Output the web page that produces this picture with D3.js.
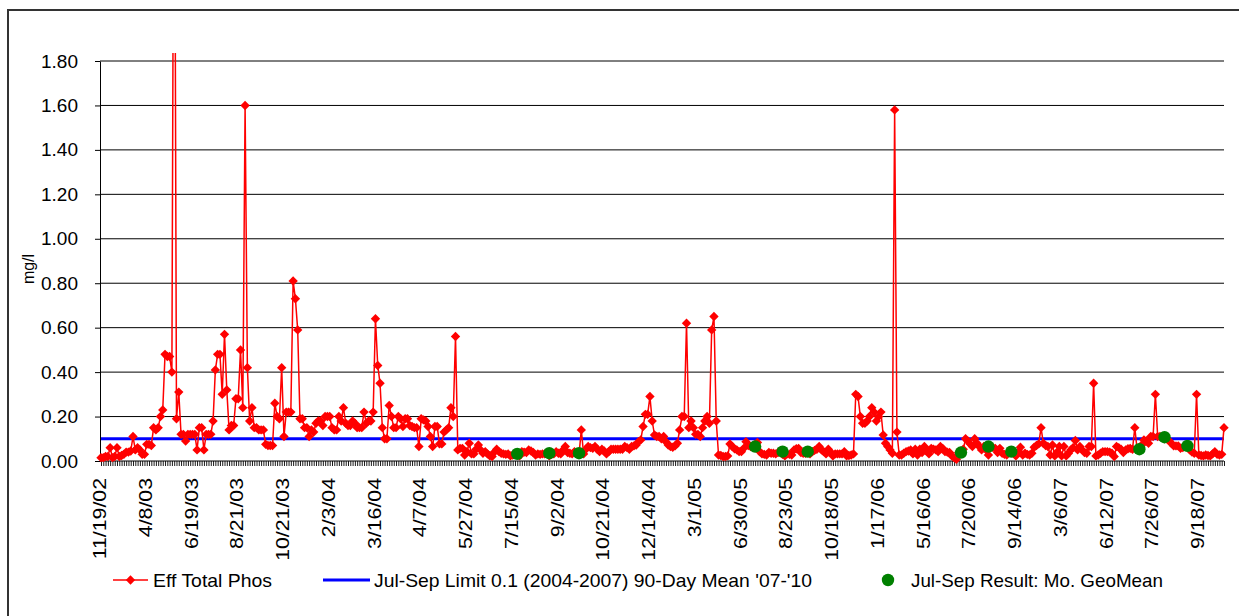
<!DOCTYPE html>
<html>
<head>
<meta charset="utf-8">
<title>Eff Total Phos</title>
<script src="https://cdn.jsdelivr.net/npm/d3@7"></script>
<style>
  body { margin: 0; background: #fff; }
  text { font-family: "Liberation Sans", Arial, sans-serif; fill: #000; }
</style>
</head>
<body>
<script>
// category labels, one every 20 samples
const xLabels = ["11/19/02", "4/8/03", "6/19/03", "8/21/03", "10/21/03", "2/3/04", "3/16/04", "4/7/04",
  "5/27/04", "7/15/04", "9/2/04", "10/21/04", "12/14/04", "3/1/05", "6/30/05", "8/23/05", "10/18/05",
  "1/17/06", "5/16/06", "7/20/06", "9/14/06", "3/6/07", "6/12/07", "7/26/07", "9/18/07"];
const labelEvery = 20;

// Eff Total Phos, mg/l
const effTotalPhos = [
  0.015, 0.015, 0.02, 0.02, 0.06, 0.015, 0.02, 0.06, 0.02, 0.025, 0.03, 0.04, 0.04, 0.045, 0.11, 0.05, 0.06, 0.05, 0.03, 0.03,
  0.075, 0.075, 0.07, 0.15, 0.14, 0.15, 0.20, 0.23, 0.48, 0.47, 0.47, 0.40, 3.50, 0.19, 0.31, 0.12, 0.12, 0.09, 0.12, 0.12,
  0.12, 0.12, 0.05, 0.15, 0.15, 0.05, 0.12, 0.12, 0.12, 0.18, 0.41, 0.48, 0.48, 0.30, 0.57, 0.32, 0.14, 0.16, 0.16, 0.28,
  0.28, 0.50, 0.24, 1.60, 0.42, 0.18, 0.24, 0.15, 0.15, 0.14, 0.14, 0.14, 0.075, 0.07, 0.07, 0.07, 0.26, 0.20, 0.19, 0.42,
  0.11, 0.22, 0.22, 0.22, 0.81, 0.73, 0.59, 0.19, 0.19, 0.15, 0.15, 0.11, 0.14, 0.13, 0.17, 0.18, 0.18, 0.16, 0.20, 0.20,
  0.20, 0.15, 0.14, 0.14, 0.20, 0.18, 0.24, 0.17, 0.16, 0.16, 0.18, 0.17, 0.15, 0.15, 0.15, 0.22, 0.17, 0.18, 0.18, 0.22,
  0.64, 0.43, 0.35, 0.15, 0.10, 0.10, 0.25, 0.20, 0.15, 0.15, 0.20, 0.19, 0.155, 0.19, 0.19, 0.16, 0.155, 0.15, 0.15, 0.065,
  0.19, 0.185, 0.18, 0.155, 0.11, 0.065, 0.155, 0.155, 0.077, 0.077, 0.13, 0.14, 0.15, 0.24, 0.20, 0.56, 0.05, 0.057, 0.057, 0.027,
  0.042, 0.08, 0.032, 0.032, 0.053, 0.072, 0.05, 0.035, 0.042, 0.032, 0.023, 0.02, 0.04, 0.053, 0.042, 0.035, 0.032, 0.03, 0.032, 0.023,
  0.027, 0.03, 0.03, 0.023, 0.042, 0.04, 0.038, 0.05, 0.045, 0.038, 0.027, 0.032, 0.03, 0.032, 0.032, 0.035, 0.023, 0.03, 0.032, 0.042,
  0.035, 0.032, 0.05, 0.065, 0.038, 0.035, 0.032, 0.042, 0.035, 0.03, 0.14, 0.032, 0.053, 0.065, 0.06, 0.057, 0.065, 0.053, 0.042, 0.053,
  0.045, 0.032, 0.042, 0.053, 0.053, 0.053, 0.053, 0.053, 0.053, 0.065, 0.06, 0.053, 0.065, 0.068, 0.072, 0.087, 0.095, 0.155, 0.21, 0.21,
  0.29, 0.18, 0.117, 0.11, 0.11, 0.10, 0.11, 0.087, 0.072, 0.065, 0.062, 0.068, 0.08, 0.14, 0.20, 0.20, 0.62, 0.15, 0.18, 0.15,
  0.12, 0.12, 0.11, 0.15, 0.18, 0.20, 0.17, 0.59, 0.65, 0.18, 0.027, 0.025, 0.02, 0.02, 0.023, 0.077, 0.065, 0.055, 0.05, 0.042,
  0.042, 0.057, 0.087, 0.07, 0.065, 0.065, 0.075, 0.083, 0.042, 0.032, 0.03, 0.027, 0.038, 0.035, 0.035, 0.032, 0.038, 0.042, 0.03, 0.023,
  0.032, 0.03, 0.027, 0.05, 0.055, 0.057, 0.038, 0.035, 0.035, 0.042, 0.032, 0.042, 0.048, 0.053, 0.065, 0.05, 0.042, 0.032, 0.053, 0.04,
  0.023, 0.032, 0.032, 0.032, 0.032, 0.042, 0.023, 0.025, 0.027, 0.032, 0.30, 0.29, 0.20, 0.17, 0.17, 0.18, 0.20, 0.24, 0.22, 0.18,
  0.20, 0.22, 0.117, 0.08, 0.065, 0.05, 0.035, 1.58, 0.13, 0.027, 0.027, 0.035, 0.042, 0.045, 0.05, 0.032, 0.053, 0.027, 0.053, 0.038,
  0.065, 0.045, 0.032, 0.057, 0.053, 0.05, 0.042, 0.065, 0.057, 0.042, 0.04, 0.038, 0.023, 0.015, 0.008, 0.038, 0.045, 0.053, 0.10, 0.09,
  0.077, 0.065, 0.10, 0.08, 0.065, 0.05, 0.065, 0.05, 0.027, 0.065, 0.06, 0.057, 0.038, 0.057, 0.035, 0.03, 0.027, 0.042, 0.04, 0.035,
  0.023, 0.04, 0.062, 0.027, 0.035, 0.03, 0.027, 0.035, 0.062, 0.07, 0.077, 0.15, 0.08, 0.07, 0.065, 0.027, 0.072, 0.023, 0.04, 0.065,
  0.023, 0.065, 0.023, 0.035, 0.05, 0.06, 0.092, 0.05, 0.065, 0.05, 0.038, 0.035, 0.065, 0.065, 0.35, 0.023, 0.027, 0.035, 0.042, 0.042,
  0.042, 0.04, 0.035, 0.02, 0.065, 0.06, 0.053, 0.038, 0.05, 0.055, 0.057, 0.053, 0.15, 0.053, 0.06, 0.072, 0.095, 0.09, 0.08, 0.11,
  0.11, 0.30, 0.11, 0.11, 0.107, 0.10, 0.10, 0.09, 0.08, 0.068, 0.068, 0.068, 0.057, 0.06, 0.065, 0.068, 0.05, 0.04, 0.035, 0.30,
  0.027, 0.025, 0.023, 0.027, 0.025, 0.023, 0.032, 0.042, 0.03, 0.027, 0.03, 0.15
];

// Jul-Sep limit, constant
const limitValue = 0.1;

// Jul-Sep result: monthly geomean (sample index, value)
const geoIdx = [182, 196, 209, 286, 298, 309, 376, 388, 398, 454, 465, 475];
const geoVals = [0.032, 0.035, 0.035, 0.065, 0.042, 0.042, 0.038, 0.065, 0.042, 0.053, 0.107, 0.068];

const yTicks = [0, 0.2, 0.4, 0.6, 0.8, 1.0, 1.2, 1.4, 1.6, 1.8];
const legendNames = ["Eff Total Phos", "Jul-Sep Limit 0.1 (2004-2007) 90-Day Mean '07-'10", "Jul-Sep Result: Mo. GeoMean"];

const W = 1239, H = 616;
const plot = {left: 100, right: 1224, top: 61, bottom: 461};

const svg = d3.select("body").append("svg")
    .attr("width", W)
    .attr("height", H);

// outer chart border (runs off the right and bottom of the picture)
svg.append("rect")
    .attr("x", 8).attr("y", 10)
    .attr("width", 1260).attr("height", 640)
    .attr("fill", "none")
    .attr("stroke", "#333")
    .attr("stroke-width", 2);

const x = d3.scaleLinear().domain([0, effTotalPhos.length - 1]).range([plot.left + 1, plot.right]);
const y = d3.scaleLinear().domain([0, 1.8]).range([plot.bottom, plot.top]);

// gridlines
svg.append("g").selectAll("line")
    .data(yTicks.filter(d => d > 0))
    .enter().append("line")
    .attr("x1", plot.left).attr("x2", plot.right)
    .attr("y1", d => y(d)).attr("y2", d => y(d))
    .attr("stroke", "#000")
    .attr("stroke-width", 1);

// y axis
const gy = svg.append("g")
    .attr("transform", "translate(" + plot.left + ",0)")
    .call(d3.axisLeft(y).tickValues(yTicks).tickFormat(d3.format(".2f"))
        .tickSize(5).tickPadding(17).tickSizeOuter(0));
gy.selectAll("text").style("font-size", "19px");

// x axis: a tick per sample, a label every 20
const gx = svg.append("g")
    .attr("transform", "translate(0," + plot.bottom + ")")
    .call(d3.axisBottom(x).tickValues(d3.range(effTotalPhos.length))
        .tickFormat(i => i % labelEvery === 0 ? xLabels[i / labelEvery] : "")
        .tickSize(5).tickSizeOuter(0));
gx.select(".domain").attr("d", "M" + plot.left + ",0H" + plot.right);
gx.selectAll(".tick line").attr("stroke-width", 0.9);
gx.selectAll("text")
    .attr("transform", "rotate(-90)")
    .attr("text-anchor", "end")
    .attr("x", -17)
    .attr("y", -2)
    .attr("dy", "0.35em")
    .style("font-size", "19px")
    .each(function() {
        if (this.textContent) {
            d3.select(this).attr("textLength", this.getComputedTextLength() * 1.12)
                .attr("lengthAdjust", "spacingAndGlyphs");
        }
    });

// y axis title
svg.append("text")
    .attr("transform", "translate(34,269) rotate(-90)")
    .attr("text-anchor", "middle")
    .style("font-size", "16px")
    .text("mg/l");

// clip for values above the axis max
svg.append("clipPath").attr("id", "plotClip")
    .append("rect")
    .attr("x", 0).attr("y", 53)
    .attr("width", W).attr("height", H - 53);

const series = svg.append("g").attr("clip-path", "url(#plotClip)");

// limit line
series.append("path")
    .datum([0, effTotalPhos.length - 1])
    .attr("fill", "none")
    .attr("stroke", "#0000ff")
    .attr("stroke-width", 3)
    .attr("d", d3.line().x(d => x(d)).y(() => y(limitValue)));

// Eff Total Phos line + diamonds
series.append("path")
    .datum(effTotalPhos)
    .attr("fill", "none")
    .attr("stroke", "#ff0000")
    .attr("stroke-width", 1.5)
    .attr("stroke-linejoin", "round")
    .attr("d", d3.line().x((d, i) => x(i)).y(d => y(d)));

const diamond = d3.symbol().type(d3.symbolDiamond2 || d3.symbolDiamond).size(56);
series.append("g").selectAll("path")
    .data(effTotalPhos)
    .enter().append("path")
    .attr("transform", (d, i) => "translate(" + x(i) + "," + y(d) + ")")
    .attr("d", diamond)
    .attr("fill", "#ff0000");

// GeoMean dots
series.append("g").selectAll("circle")
    .data(geoIdx)
    .enter().append("circle")
    .attr("cx", d => x(d))
    .attr("cy", (d, i) => y(geoVals[i]))
    .attr("r", 6.2)
    .attr("fill", "#008000");

// legend
const legendY = 580;
const leg = svg.append("g");
leg.append("line").attr("x1", 113).attr("x2", 148).attr("y1", legendY).attr("y2", legendY)
    .attr("stroke", "#ff0000").attr("stroke-width", 1.5);
leg.append("path").attr("transform", "translate(130.5," + legendY + ")").attr("d", diamond).attr("fill", "#ff0000");
leg.append("line").attr("x1", 323).attr("x2", 370).attr("y1", legendY).attr("y2", legendY)
    .attr("stroke", "#0000ff").attr("stroke-width", 3);
leg.append("circle").attr("cx", 888).attr("cy", legendY).attr("r", 6.2).attr("fill", "#008000");

const legendX = [153, 374, 911];
const legendW = [119, 438, 252];
leg.selectAll("text.lg")
    .data(legendNames)
    .enter().append("text")
    .attr("class", "lg")
    .attr("x", (d, i) => legendX[i])
    .attr("y", legendY)
    .attr("dy", "0.35em")
    .attr("textLength", (d, i) => legendW[i])
    .attr("lengthAdjust", "spacingAndGlyphs")
    .style("font-size", "19px")
    .text(d => d);
</script>
</body>
</html>
